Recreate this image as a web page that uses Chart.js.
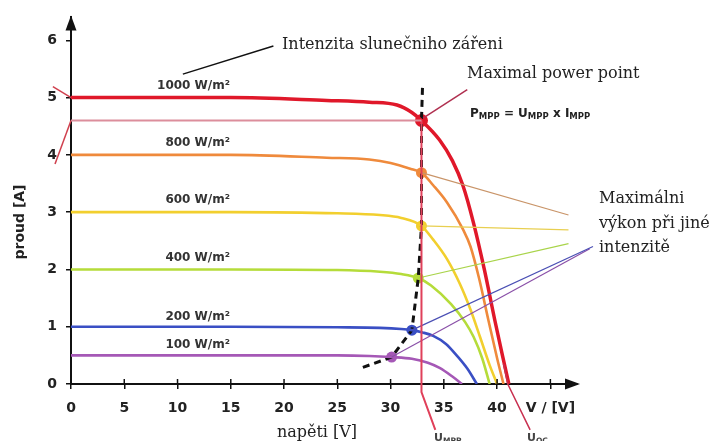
<!DOCTYPE html>
<html>
<head>
<meta charset="utf-8">
<script src="https://cdn.jsdelivr.net/npm/chart.js@4.4.1/dist/chart.umd.min.js"></script>
<style>
  html, body { margin: 0; padding: 0; background: #ffffff; }
  #wrap { width: 720px; height: 441px; position: relative; }
</style>
</head>
<body>
<div id="wrap"><canvas id="ivChart" width="720" height="441"></canvas></div>
<script>
// I-V curves of a solar panel at different irradiance levels

const irradianceLabels = ['1000 W/m²', '800 W/m²', '600 W/m²', '400 W/m²', '200 W/m²', '100 W/m²'];

// voltage [V] / current [A]
const u1000 = [0, 15, 24, 28, 30.6, 32, 32.9, 34.6, 35.8, 36.8, 37.8, 38.8, 39.8, 40.5, 41.1];
const i1000 = [5.0, 5.0, 4.95, 4.92, 4.87, 4.74, 4.6, 4.26, 3.9, 3.46, 2.8, 2.0, 1.1, 0.5, 0];
const u800 = [0, 15, 24, 28, 30, 32, 32.9, 34, 35.3, 36.8, 37.5, 38.3, 39.2, 40, 40.6];
const i800 = [4.0, 4.0, 3.95, 3.92, 3.86, 3.75, 3.69, 3.47, 3.17, 2.7, 2.4, 1.85, 1.1, 0.45, 0];
const u600 = [0, 15, 25, 29, 31, 32.9, 34, 35.3, 36.5, 37.5, 38.4, 39.3, 40.0];
const i600 = [3.0, 3.0, 2.98, 2.95, 2.9, 2.76, 2.52, 2.18, 1.75, 1.3, 0.82, 0.33, 0];
const u400 = [0, 15, 25, 29, 31, 32.6, 33.8, 35.7, 37, 37.8, 38.6, 39.3];
const i400 = [2.0, 2.0, 1.99, 1.96, 1.92, 1.85, 1.72, 1.39, 1.08, 0.82, 0.45, 0];
const u200 = [0, 15, 25, 29, 31, 32, 33, 34, 35.2, 36.2, 37.2, 38.1];
const i200 = [1.0, 1.0, 0.99, 0.98, 0.96, 0.94, 0.9, 0.84, 0.7, 0.5, 0.27, 0];
const u100 = [0, 15, 25, 28, 30.1, 32, 33.5, 34.6, 35.8, 36.7];
const i100 = [0.5, 0.5, 0.5, 0.49, 0.47, 0.44, 0.37, 0.28, 0.13, 0];

// maximum power points
const mppU = [32.9, 32.9, 32.9, 32.6, 32.0, 30.1];
const mppI = [4.6, 3.69, 2.76, 1.85, 0.94, 0.47];

// dashed MPP track
const trackU = [27.4, 30.1, 32.0, 32.6, 32.9, 32.9, 32.9, 33.0];
const trackI = [0.29, 0.47, 0.94, 1.85, 2.76, 3.69, 4.6, 5.2];

// ends of the thin lines pointing to "Maximálni výkon při jiné intenzitě"
const calloutU = [46.7, 46.7, 46.7, 49.0, 48.7];
const calloutI = [2.95, 2.69, 2.45, 2.40, 2.36];

// U_MPP / U_OC marker lines and leader lines
const umppU = [32.9, 32.9, 34.2];
const umppI = [4.6, -0.14, -0.8];
const uocU = [40.6, 41.0, 43.1];
const uocI = [0.35, 0, -0.8];
const imppU = [0, 32.9];
const imppI = [4.6, 4.6];
const iscMarkU = [-1.7, 0];
const iscMarkI = [5.19, 5.0];
const impMarkU = [-1.5, 0];
const impMarkI = [3.84, 4.6];
const intLeaderU = [10.5, 19.0];
const intLeaderI = [5.41, 5.9];
const mppLeaderU = [33.05, 37.2];
const mppLeaderI = [4.64, 5.14];

const xTicks = [0, 5, 10, 15, 20, 25, 30, 35, 40, 45];
const yTicks = [0, 1, 2, 3, 4, 5, 6];

const curveColors = ['#e0182a', '#ef8a3c', '#f2cf2e', '#b5dc3a', '#3a4fc4', '#a558b6'];
const calloutColors = ['#c99468', '#e8cf50', '#a9d44a', '#4a4fb4', '#8a50a8'];

function pts(us, is) {
  return us.map((u, k) => ({ x: u, y: is[k] }));
}

const curves = [[u1000, i1000], [u800, i800], [u600, i600], [u400, i400], [u200, i200], [u100, i100]];

const datasets = [];

// helper lines first so curves sit on top
datasets.push({ data: pts(imppU, imppI), borderColor: '#dc8e9c', borderWidth: 2, pointRadius: 0 });
datasets.push({ data: pts(iscMarkU, iscMarkI), borderColor: '#d0404e', borderWidth: 1.5, pointRadius: 0, clip: false });
datasets.push({ data: pts(impMarkU, impMarkI), borderColor: '#d0404e', borderWidth: 1.5, pointRadius: 0, clip: false });
datasets.push({ data: pts(umppU, umppI), borderColor: '#e0405a', borderWidth: 2, pointRadius: 0, clip: false });
datasets.push({ data: pts(uocU, uocI), borderColor: '#c83050', borderWidth: 1.5, pointRadius: 0, clip: false });
datasets.push({ data: pts(intLeaderU, intLeaderI), borderColor: '#111111', borderWidth: 1.5, pointRadius: 0, clip: false });
datasets.push({ data: pts(mppLeaderU, mppLeaderI), borderColor: '#b03050', borderWidth: 1.5, pointRadius: 0, clip: false });

// thin callout lines from the MPP dots (800 .. 100)
for (let k = 0; k < calloutU.length; k++) {
  datasets.push({
    data: [{ x: mppU[k + 1], y: mppI[k + 1] }, { x: calloutU[k], y: calloutI[k] }],
    borderColor: calloutColors[k], borderWidth: 1.2, pointRadius: 0, clip: false
  });
}

// I-V curves
curves.forEach((c, k) => {
  datasets.push({
    label: irradianceLabels[k],
    data: pts(c[0], c[1]),
    borderColor: curveColors[k],
    borderWidth: k === 0 ? 3.5 : 2.6,
    pointRadius: 0,
    cubicInterpolationMode: 'monotone'
  });
});

// dashed MPP track
datasets.push({
  data: pts(trackU, trackI), borderColor: '#111111', borderWidth: 3,
  borderDash: [7, 5], pointRadius: 0
});

// MPP dots
datasets.push({
  data: pts(mppU, mppI), showLine: false,
  pointRadius: [6.5, 5.5, 5.5, 5.5, 5.5, 5.5],
  pointBackgroundColor: curveColors, pointBorderColor: curveColors, pointBorderWidth: 0
});

// text and arrows
const annotations = {
  id: 'annotations',
  afterDraw(chart) {
    const { ctx, chartArea: a, scales: { x, y } } = chart;
    ctx.save();

    // axis arrows
    ctx.fillStyle = '#111';
    ctx.beginPath();
    ctx.moveTo(a.left, a.top - 2);
    ctx.lineTo(a.left - 5.5, a.top + 13);
    ctx.lineTo(a.left + 5.5, a.top + 13);
    ctx.fill();
    ctx.beginPath();
    ctx.moveTo(a.right + 3, a.bottom);
    ctx.lineTo(a.right - 12, a.bottom - 5.5);
    ctx.lineTo(a.right - 12, a.bottom + 5.5);
    ctx.fill();

    // tick marks above the x axis
    ctx.strokeStyle = '#111';
    ctx.lineWidth = 1.5;
    xTicks.forEach(v => {
      const px = x.getPixelForValue(v);
      ctx.beginPath();
      ctx.moveTo(px, a.bottom - 5);
      ctx.lineTo(px, a.bottom);
      ctx.stroke();
    });

    // irradiance labels
    ctx.fillStyle = '#333';
    ctx.font = 'bold 12px "DejaVu Sans"';
    ctx.textAlign = 'right';
    ctx.textBaseline = 'middle';
    curves.forEach((c, k) => {
      const off = k >= 4 ? 10 : 12;
      ctx.fillText(irradianceLabels[k], 230, y.getPixelForValue(c[1][0]) - off);
    });

    // serif annotations
    ctx.fillStyle = '#222';
    ctx.textAlign = 'left';
    ctx.font = '16px "DejaVu Serif"';
    ctx.fillText('Intenzita slunečniho zářeni', 282, 45);
    ctx.fillText('Maximal power point', 467, 74);
    ctx.fillText('Maximálni', 599, 199);
    ctx.fillText('výkon při jiné', 599, 224);
    ctx.fillText('intenzitě', 599, 248);
    ctx.textAlign = 'center';
    ctx.fillText('napěti [V]', 317, 433);

    // axis title
    ctx.save();
    ctx.translate(20, 222);
    ctx.rotate(-Math.PI / 2);
    ctx.font = 'bold 14px "DejaVu Sans"';
    ctx.fillStyle = '#222';
    ctx.fillText('proud [A]', 0, 0);
    ctx.restore();

    // text with subscripts
    function subText(parts, sx, sy, big, small) {
      ctx.textAlign = 'left';
      ctx.textBaseline = 'alphabetic';
      let cx = sx;
      parts.forEach(([t, sub]) => {
        ctx.font = 'bold ' + (sub ? small : big) + 'px "DejaVu Sans"';
        ctx.fillText(t, cx, sy + (sub ? 2 : 0));
        cx += ctx.measureText(t).width;
      });
    }
    ctx.fillStyle = '#222';
    subText([['P', 0], ['MPP', 1], [' = U', 0], ['MPP', 1], [' x I', 0], ['MPP', 1]], 470, 117, 12, 8.5);
    ctx.fillStyle = '#444';
    subText([['U', 0], ['MPP', 1]], 434, 441, 11, 7.5);
    subText([['U', 0], ['OC', 1]], 527, 441, 11, 7.5);

    ctx.restore();
  }
};

Chart.defaults.font.family = '"DejaVu Sans"';

new Chart(document.getElementById('ivChart'), {
  type: 'line',
  data: { datasets: datasets },
  options: {
    responsive: false,
    animation: false,
    layout: { padding: { top: 13, right: 143, left: 0, bottom: 0 } },
    plugins: { legend: { display: false }, tooltip: { enabled: false } },
    scales: {
      x: {
        type: 'linear',
        min: 0,
        max: 47.5,
        afterFit: (s) => { s.height = 57; },
        afterBuildTicks: (s) => { s.ticks = xTicks.map(v => ({ value: v })); },
        grid: { drawOnChartArea: false, tickLength: 5, color: '#111', lineWidth: 1.5 },
        border: { display: true, color: '#111', width: 2 },
        ticks: {
          autoSkip: false,
          maxRotation: 0,
          padding: 11,
          color: '#222',
          font: { size: 14, weight: 'bold' },
          callback: (v) => (v === 45 ? 'V / [V]' : v)
        }
      },
      y: {
        type: 'linear',
        min: 0,
        max: 6.4,
        afterFit: (s) => { s.width = 71; },
        afterBuildTicks: (s) => { s.ticks = yTicks.map(v => ({ value: v })); },
        grid: { drawOnChartArea: false, tickLength: 5, color: '#111', lineWidth: 1.5 },
        border: { display: true, color: '#111', width: 2 },
        ticks: {
          padding: 9,
          color: '#222',
          font: { size: 14, weight: 'bold' }
        }
      }
    }
  },
  plugins: [annotations]
});
</script>
</body>
</html>
